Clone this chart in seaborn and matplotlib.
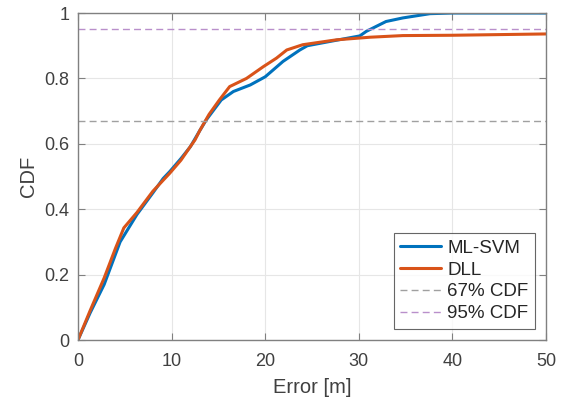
import pandas as pd
import matplotlib
matplotlib.use("Agg")
import matplotlib.pyplot as plt
import seaborn as sns

# values
svm_err = [0, 1.3, 2.8, 4.5, 6.3, 8.0, 9.1, 9.8, 11.0, 12.0, 13.0, 13.7, 14.8,
           15.3, 16.6, 18.4, 20.0, 21.9, 23.7, 24.5, 26.9, 30.1, 30.8, 32.9,
           34.7, 37.6, 40.0, 50.0]
svm_cdf = [0, 0.083, 0.17, 0.30, 0.384, 0.45, 0.494, 0.515, 0.555, 0.591, 0.64,
           0.673, 0.715, 0.734, 0.76, 0.78, 0.805, 0.852, 0.887, 0.900, 0.913,
           0.930, 0.944, 0.974, 0.985, 0.998, 1.0, 1.0]

dll_err = [0, 1.3, 2.8, 4.0, 4.9, 6.3, 8.0, 9.8, 11.0, 11.6, 12.5, 13.0, 14.0,
           15.1, 16.2, 18.0, 19.8, 21.2, 22.3, 24.0, 27.6, 31.2, 34.7, 40.0, 50.0]
dll_cdf = [0, 0.09, 0.19, 0.28, 0.343, 0.39, 0.455, 0.51, 0.55, 0.575, 0.612,
           0.64, 0.69, 0.734, 0.775, 0.80, 0.836, 0.862, 0.887, 0.903, 0.918,
           0.926, 0.931, 0.932, 0.936]

ref_levels = [0.67, 0.95]
ref_names = ["67% CDF", "95% CDF"]
ref_colors = ["#A0A0A0", "#B98FCB"]

df = pd.concat([
    pd.DataFrame({"Error": svm_err, "CDF": svm_cdf, "method": "ML-SVM"}),
    pd.DataFrame({"Error": dll_err, "CDF": dll_cdf, "method": "DLL"}),
])

sns.set_style("white")
plt.rcParams["font.family"] = ["Liberation Sans", "DejaVu Sans"]

fig, ax = plt.subplots(figsize=(5.63, 4.03), dpi=100)
fig.subplots_adjust(left=0.1385, right=0.970, bottom=0.1563, top=0.9677)

sns.lineplot(data=df, x="Error", y="CDF", hue="method", sort=False,
             estimator=None, palette={"ML-SVM": "#0072BD", "DLL": "#D95319"},
             linewidth=2.2, ax=ax)

for lvl, name, c in zip(ref_levels, ref_names, ref_colors):
    ax.axhline(lvl, color=c, linestyle=(0, (5, 3)), linewidth=1.0, label=name)

ax.set_xlim(0, 50)
ax.set_ylim(0, 1)
ax.set_xticks([0, 10, 20, 30, 40, 50])
ax.set_yticks([0, 0.2, 0.4, 0.6, 0.8, 1.0])
ax.set_yticklabels(["0", "0.2", "0.4", "0.6", "0.8", "1"])
ax.grid(True, color="#E6E6E6", linewidth=0.8)
ax.set_axisbelow(True)
ax.tick_params(direction="in", length=5, width=0.8, colors="#808080",
               labelcolor="#404040", labelsize=13, top=True, right=True,
               bottom=True, left=True)
ax.tick_params(axis="x", pad=9)
ax.tick_params(axis="y", pad=6)
for sp in ax.spines.values():
    sp.set_color("#808080")
    sp.set_linewidth(1.0)

ax.set_xlabel("Error [m]", fontsize=14.5, color="#404040", labelpad=6)
ax.set_ylabel("CDF", fontsize=14.5, color="#404040", labelpad=5)

handles, labels = ax.get_legend_handles_labels()
leg = ax.legend(handles, labels, loc="lower right", fontsize=13.5,
                frameon=True, fancybox=False, edgecolor="#404040",
                borderaxespad=0.6, handlelength=2.2, handletextpad=0.3,
                labelspacing=0.25, borderpad=0.35)
leg.get_frame().set_linewidth(0.8)

fig.savefig("out.png", dpi=100)
